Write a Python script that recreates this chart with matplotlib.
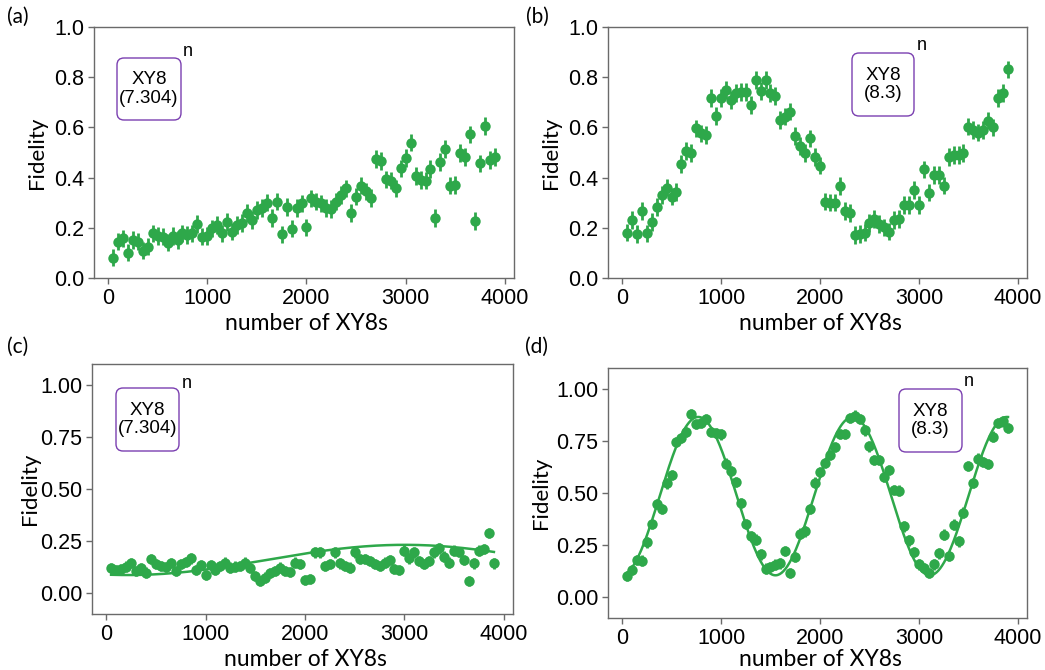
import numpy as np
import matplotlib
matplotlib.use("Agg")
import matplotlib.pyplot as plt
from matplotlib.patches import FancyBboxPatch
from matplotlib.transforms import Affine2D

# ---------------------------------------------------------------- data
n_xy8 = [50, 100, 150, 200, 250, 300, 350, 400, 450, 500,
         550, 600, 650, 700, 750, 800, 850, 900, 950, 1000,
         1050, 1100, 1150, 1200, 1250, 1300, 1350, 1400, 1450, 1500,
         1550, 1600, 1650, 1700, 1750, 1800, 1850, 1900, 1950, 2000,
         2050, 2100, 2150, 2200, 2250, 2300, 2350, 2400, 2450, 2500,
         2550, 2600, 2650, 2700, 2750, 2800, 2850, 2900, 2950, 3000,
         3050, 3100, 3150, 3200, 3250, 3300, 3350, 3400, 3450, 3500,
         3550, 3600, 3650, 3700, 3750, 3800, 3850, 3900]

fid_a = [0.081, 0.145, 0.158, 0.101, 0.151, 0.145, 0.109, 0.125, 0.178, 0.167,
         0.165, 0.141, 0.167, 0.151, 0.178, 0.171, 0.178, 0.215, 0.165, 0.167,
         0.198, 0.211, 0.178, 0.222, 0.185, 0.211, 0.218, 0.260, 0.231, 0.271,
         0.278, 0.300, 0.240, 0.304, 0.174, 0.282, 0.197, 0.278, 0.297, 0.202,
         0.317, 0.304, 0.297, 0.278, 0.276, 0.304, 0.330, 0.357, 0.260, 0.324,
         0.368, 0.345, 0.318, 0.473, 0.467, 0.393, 0.388, 0.357, 0.437, 0.479,
         0.539, 0.406, 0.390, 0.388, 0.434, 0.240, 0.463, 0.514, 0.368, 0.371,
         0.499, 0.481, 0.572, 0.227, 0.457, 0.606, 0.470, 0.483]

fid_b = [0.181, 0.231, 0.175, 0.268, 0.178, 0.222, 0.282, 0.331, 0.360, 0.324,
         0.343, 0.454, 0.506, 0.499, 0.596, 0.576, 0.570, 0.718, 0.645, 0.718,
         0.749, 0.709, 0.738, 0.742, 0.742, 0.689, 0.789, 0.745, 0.789, 0.736,
         0.725, 0.629, 0.643, 0.663, 0.566, 0.526, 0.499, 0.556, 0.483, 0.448,
         0.304, 0.300, 0.300, 0.367, 0.268, 0.260, 0.171, 0.175, 0.181, 0.218,
         0.234, 0.215, 0.202, 0.185, 0.231, 0.234, 0.291, 0.291, 0.351, 0.291,
         0.433, 0.340, 0.410, 0.410, 0.368, 0.483, 0.490, 0.490, 0.497, 0.603,
         0.590, 0.579, 0.590, 0.627, 0.600, 0.716, 0.736, 0.831]

fid_c = [0.119, 0.112, 0.115, 0.128, 0.144, 0.107, 0.119, 0.099, 0.163, 0.139,
         0.131, 0.127, 0.144, 0.107, 0.139, 0.151, 0.167, 0.111, 0.135, 0.088,
         0.135, 0.112, 0.131, 0.147, 0.123, 0.128, 0.131, 0.147, 0.120, 0.083,
         0.059, 0.075, 0.096, 0.107, 0.123, 0.107, 0.103, 0.147, 0.139, 0.064,
         0.067, 0.196, 0.196, 0.131, 0.139, 0.196, 0.143, 0.131, 0.123, 0.196,
         0.163, 0.163, 0.155, 0.139, 0.131, 0.147, 0.160, 0.115, 0.112, 0.204,
         0.167, 0.196, 0.155, 0.139, 0.155, 0.196, 0.215, 0.176, 0.147, 0.204,
         0.199, 0.159, 0.059, 0.143, 0.204, 0.212, 0.288, 0.143]

fid_d = [0.102, 0.130, 0.178, 0.176, 0.263, 0.352, 0.446, 0.424, 0.546, 0.586,
         0.744, 0.765, 0.792, 0.879, 0.832, 0.835, 0.856, 0.792, 0.787, 0.781,
         0.641, 0.606, 0.554, 0.451, 0.352, 0.292, 0.276, 0.205, 0.137, 0.146,
         0.156, 0.162, 0.221, 0.117, 0.194, 0.305, 0.316, 0.422, 0.550, 0.600,
         0.644, 0.681, 0.720, 0.784, 0.784, 0.860, 0.871, 0.856, 0.800, 0.724,
         0.657, 0.657, 0.578, 0.610, 0.514, 0.511, 0.340, 0.273, 0.216, 0.157,
         0.141, 0.117, 0.157, 0.210, 0.300, 0.197, 0.348, 0.268, 0.406, 0.629,
         0.549, 0.665, 0.649, 0.638, 0.771, 0.835, 0.844, 0.813]

# uncertainty of each fidelity point
err_ab = 0.035
err_cd = 0.025

# fitted oscillation: offset, amplitude, period, position of the minimum
fit_c = [0.1595, 0.0725, 5565.0, 220.0]
fit_d = [0.485, 0.380, 1560.0, -10.0]

pulse_labels = ["XY8\n(7.304)", "XY8\n(8.3)", "XY8\n(7.304)", "XY8\n(8.3)"]
panel_tags = ["(a)", "(b)", "(c)", "(d)"]
xticks = [0, 1000, 2000, 3000, 4000]
yticks_top = [0.0, 0.2, 0.4, 0.6, 0.8, 1.0]
yticks_bottom = [0.00, 0.25, 0.50, 0.75, 1.00]

# ---------------------------------------------------------------- style
W, H = 1045, 670
GREEN = "#2ea84a"
PURPLE = "#7a3fb0"
SPINE = "#6a6a6a"
TICK_FONT = "Liberation Sans"
LABEL_FONT = "Lato"

fig = plt.figure(figsize=(W / 100, H / 100), dpi=100)
pix = Affine2D().scale(1 / W, -1 / H).translate(0, 1) + fig.transFigure


def axes_px(left, top, right, bottom):
    return fig.add_axes([left / W, 1 - bottom / H,
                         (right - left) / W, (bottom - top) / H])


def fit_curve(x, p):
    off, amp, period, xmin = p
    return off - amp * np.cos(2 * np.pi * (np.asarray(x) - xmin) / period)


panels = [
    dict(rect=(94, 27, 514, 278), y=fid_a, err=err_ab, fit=None,
         ylim=(0, 1.0), yticks=yticks_top, fmt="{:.1f}",
         box=(117, 58, 181, 120), n=(188, 52), tag=(18, 17),
         ylab_x=37, xlab_y=324),
    dict(rect=(608, 27, 1027, 278), y=fid_b, err=err_ab, fit=None,
         ylim=(0, 1.0), yticks=yticks_top, fmt="{:.1f}",
         box=(852, 53, 914, 116), n=(922, 45), tag=(537, 17),
         ylab_x=551, xlab_y=324),
    dict(rect=(92, 364, 513, 614), y=fid_c, err=err_cd, fit=fit_c,
         ylim=(-0.1, 1.1), yticks=yticks_bottom, fmt="{:.2f}",
         box=(116, 388, 179, 451), n=(187, 384), tag=(18, 347),
         ylab_x=30, xlab_y=659),
    dict(rect=(608, 368, 1027, 618), y=fid_d, err=err_cd, fit=fit_d,
         ylim=(-0.1, 1.1), yticks=yticks_bottom, fmt="{:.2f}",
         box=(899, 389, 962, 452), n=(969, 381), tag=(537, 347),
         ylab_x=541, xlab_y=659),
]

for i, p in enumerate(panels):
    ax = axes_px(*p["rect"])
    ax.errorbar(n_xy8, p["y"], yerr=p["err"], fmt="o", color=GREEN,
                ecolor=GREEN, elinewidth=2.0, capsize=0, markersize=7.5,
                markeredgewidth=0, zorder=3)
    if p["fit"] is not None:
        xs = np.linspace(n_xy8[0], n_xy8[-1], 400)
        ax.plot(xs, fit_curve(xs, p["fit"]), color=GREEN, lw=1.8, zorder=2)

    ax.set_xlim(-142, 4092)
    ax.set_ylim(*p["ylim"])
    ax.set_xticks(xticks)
    ax.set_xticklabels([str(t) for t in xticks])
    ax.set_yticks(p["yticks"])
    ax.set_yticklabels([p["fmt"].format(t) for t in p["yticks"]])
    ax.tick_params(direction="out", length=4, width=1, color=SPINE,
                   labelsize=15.5, pad=3)
    for lab in ax.get_xticklabels() + ax.get_yticklabels():
        lab.set_fontfamily(TICK_FONT)
    for s in ax.spines.values():
        s.set_color(SPINE)
        s.set_linewidth(1.0)

    l, t, r, b = p["rect"]
    fig.text(p["ylab_x"], (t + b) / 2, "Fidelity", transform=pix,
             rotation=90, ha="center", va="center", fontsize=16,
             family=LABEL_FONT)
    fig.text(l + (r - l) * (142 + 2000) / 4234, p["xlab_y"], "number of XY8s",
             transform=pix, ha="center", va="center", fontsize=16.5,
             family=LABEL_FONT)
    fig.text(p["tag"][0], p["tag"][1], panel_tags[i], transform=pix,
             ha="center", va="center", fontsize=15, family=LABEL_FONT)

    bx0, by0, bx1, by1 = p["box"]
    fig.add_artist(FancyBboxPatch((bx0, by0), bx1 - bx0, by1 - by0,
                                  boxstyle="round,pad=0,rounding_size=7",
                                  transform=pix, facecolor="white",
                                  edgecolor=PURPLE, linewidth=1.0, zorder=5))
    fig.text((bx0 + bx1) / 2, (by0 + by1) / 2, pulse_labels[i], transform=pix,
             ha="center", va="center", fontsize=13.5, family=TICK_FONT,
             linespacing=1.15, zorder=6)
    fig.text(p["n"][0], p["n"][1], "n", transform=pix, ha="center",
             va="center", fontsize=13, family=TICK_FONT, zorder=6)

fig.savefig("out.png", dpi=100)
